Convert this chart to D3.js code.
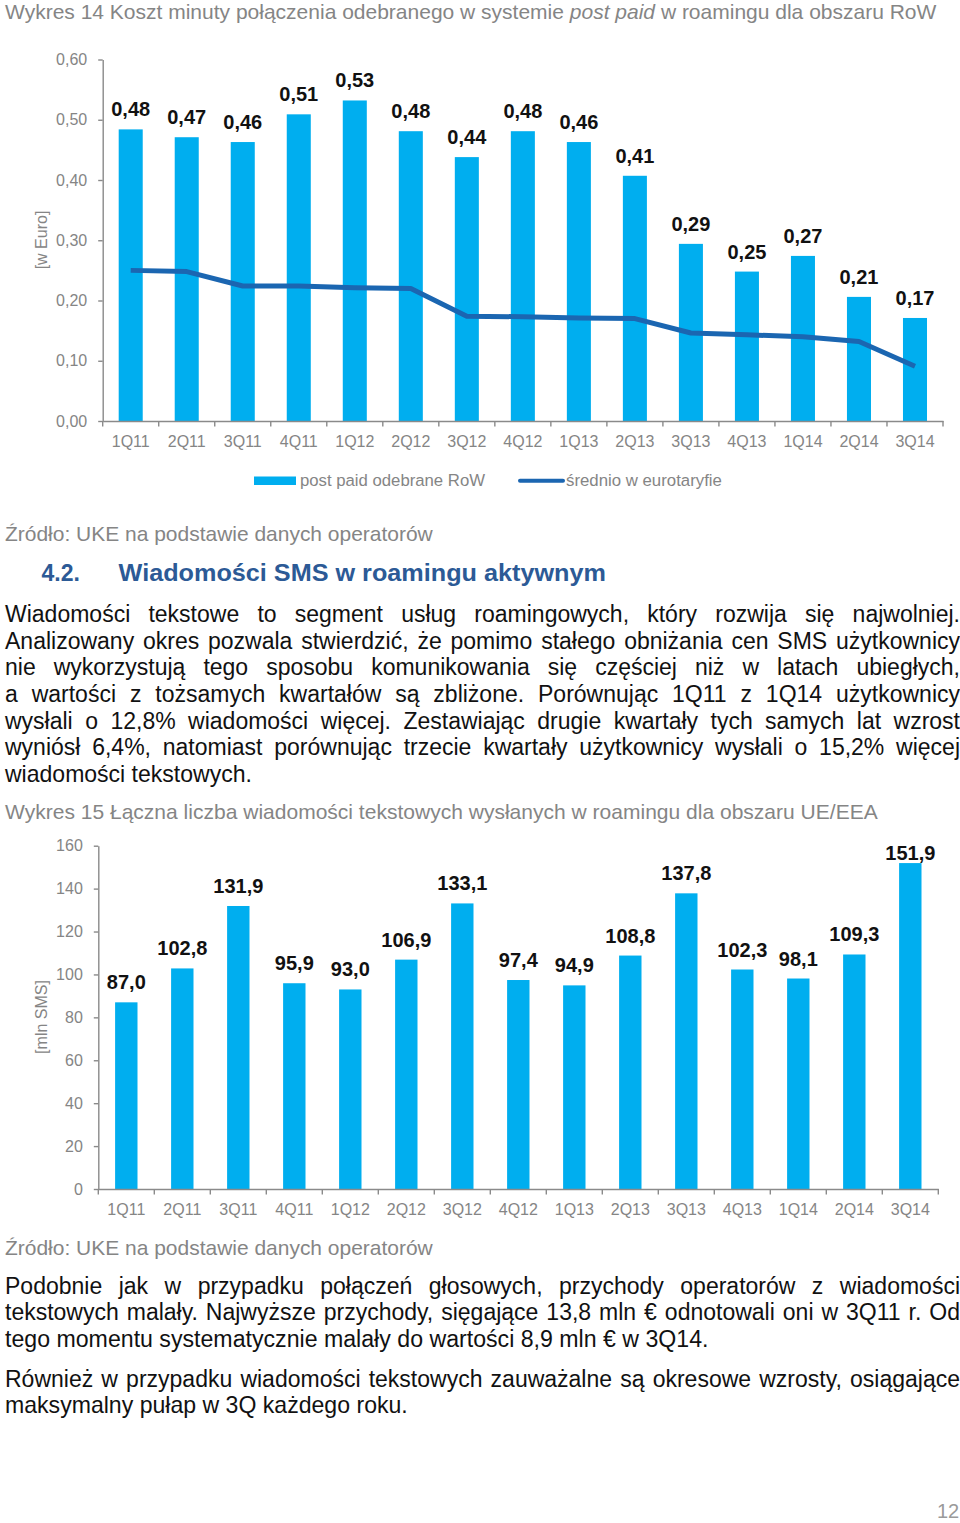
<!DOCTYPE html>
<html>
<head>
<meta charset="utf-8">
<script src="https://cdn.jsdelivr.net/npm/d3@7"></script>
<style>
  html, body { margin: 0; padding: 0; background: #fff; }
  svg { display: block; }
</style>
</head>
<body>
<script>
// ---------- DATA ----------
const quarters = ["1Q11","2Q11","3Q11","4Q11","1Q12","2Q12","3Q12","4Q12","1Q13","2Q13","3Q13","4Q13","1Q14","2Q14","3Q14"];
const costPostPaidRoW = [0.484,0.471,0.463,0.509,0.532,0.481,0.438,0.481,0.463,0.407,0.294,0.248,0.274,0.206,0.171];
const avgEurotariff   = [0.250,0.248,0.224,0.224,0.221,0.220,0.174,0.173,0.171,0.170,0.146,0.143,0.140,0.132,0.091];
const costTicks = [0,0.1,0.2,0.3,0.4,0.5,0.6];
const smsTotal = [87.0,102.8,131.9,95.9,93.0,106.9,133.1,97.4,94.9,108.8,137.8,102.3,98.1,109.3,151.9];
const smsTicks = [0,20,40,60,80,100,120,140,160];
const legendLabels = ["post paid odebrane RoW","średnio w eurotaryfie"];

const title14 = [{t:"Wykres 14 Koszt minuty połączenia odebranego w systemie "},{t:"post paid",i:true},{t:" w roamingu dla obszaru RoW"}];
const title15 = "Wykres 15 Łączna liczba wiadomości tekstowych wysłanych w roamingu dla obszaru UE/EEA";
const sourceText = "Źródło: UKE na podstawie danych operatorów";
const para1 = [
  "Wiadomości tekstowe to segment usług roamingowych, który rozwija się najwolniej.",
  "Analizowany okres pozwala stwierdzić, że pomimo stałego obniżania cen SMS użytkownicy",
  "nie wykorzystują tego sposobu komunikowania się częściej niż w latach ubiegłych,",
  "a wartości z tożsamych kwartałów są zbliżone. Porównując 1Q11 z 1Q14 użytkownicy",
  "wysłali o 12,8% wiadomości więcej. Zestawiając drugie kwartały tych samych lat wzrost",
  "wyniósł 6,4%, natomiast porównując trzecie kwartały użytkownicy wysłali o 15,2% więcej",
  "wiadomości tekstowych."
];
const para2 = [
  "Podobnie jak w przypadku połączeń głosowych, przychody operatorów z wiadomości",
  "tekstowych malały. Najwyższe przychody, sięgające 13,8 mln € odnotowali oni w 3Q11 r. Od",
  "tego momentu systematycznie malały do wartości 8,9 mln € w 3Q14."
];
const para3 = [
  "Również w przypadku wiadomości tekstowych zauważalne są okresowe wzrosty, osiągające",
  "maksymalny pułap w 3Q każdego roku."
];

// ---------- STYLE ----------
const FONT = "'Liberation Sans', Arial, Helvetica, sans-serif";
const BAR = "#00aeef";
const LINE = "#1b66b1";
const AXIS = "#8a8a8a";
const GREY_TXT = "#858585";
const HEAD = "#2c5a96";

const svg = d3.select("body").append("svg").attr("width", 960).attr("height", 1523)
  .style("font-family", FONT);

// helper: place a line of text, fitted/justified to a target width
function textLine(x, y, parts, o) {
  const g = svg.append("g").attr("transform", `translate(${x},${y})`);
  const t = g.append("text").attr("x", 0).attr("y", 0)
    .attr("font-size", o.size).attr("font-weight", o.weight || "normal")
    .attr("fill", o.fill || "#111").style("font-family", FONT);
  if (typeof parts === "string") parts = [{t: parts}];
  parts.forEach(p => t.append("tspan").text(p.t).attr("font-style", p.i ? "italic" : "normal"));
  if (o.target) {
    const w = t.node().getComputedTextLength();
    const full = parts.map(p => p.t).join("");
    const spaces = (full.match(/ /g) || []).length;
    if (o.justify && w < o.target && spaces > 0) {
      t.attr("word-spacing", (o.target - w) / spaces);
    } else {
      g.attr("transform", `translate(${x},${y}) scale(${o.target / w},1)`);
    }
  }
  return t;
}

// ---------- CHART 14 ----------
(function(){
  const x = d3.scaleBand().domain(quarters).range([102.7, 943]).paddingInner(0.571).paddingOuter(0.2855);
  const y = d3.scaleLinear().domain([0, 0.6]).range([421, 59.5]);
  const g = svg.append("g");

  g.selectAll("rect.bar").data(quarters).join("rect").attr("class","bar")
    .attr("x", d => x(d)).attr("width", x.bandwidth())
    .attr("y", (d,i) => y(costPostPaidRoW[i]))
    .attr("height", (d,i) => y(0) - y(costPostPaidRoW[i]))
    .attr("fill", BAR);

  const line = d3.line().x((d,i) => x(quarters[i]) + x.bandwidth()/2).y(d => y(d));
  g.append("path").datum(avgEurotariff).attr("d", line)
    .attr("fill","none").attr("stroke", LINE).attr("stroke-width", 5)
    .attr("stroke-linejoin","round").attr("stroke-linecap","butt");

  g.selectAll("text.val").data(quarters).join("text").attr("class","val")
    .attr("x", d => x(d) + x.bandwidth()/2)
    .attr("y", (d,i) => y(costPostPaidRoW[i]) - 13)
    .attr("text-anchor","middle").attr("font-size", 20).attr("font-weight","bold").attr("fill","#111")
    .text((d,i) => costPostPaidRoW[i].toFixed(2).replace(".", ","));

  const ya = g.append("g").attr("transform", "translate(102.7,0)")
    .call(d3.axisLeft(y).tickValues(costTicks).tickSize(4.5).tickSizeOuter(0).tickPadding(11)
      .tickFormat(d => d.toFixed(2).replace(".", ",")));
  const xa = g.append("g").attr("transform", "translate(0,421)")
    .call(d3.axisBottom(x).tickSize(0).tickSizeOuter(0).tickPadding(15));
  [ya, xa].forEach(a => {
    a.attr("font-family", FONT).attr("font-size", 16);
    a.selectAll("path,line").attr("stroke", AXIS).attr("stroke-width", 1.4);
    a.selectAll("text").attr("fill", GREY_TXT);
  });
  xa.selectAll("g.bt").data(d3.range(quarters.length + 1)).join("line").attr("class","bt")
    .attr("x1", i => x.range()[0] + i * x.step()).attr("x2", i => x.range()[0] + i * x.step())
    .attr("y1", 0).attr("y2", 5.5).attr("stroke", AXIS).attr("stroke-width", 1.4);

  g.append("text").attr("transform","translate(41,240) rotate(-90)")
    .attr("text-anchor","middle").attr("dy","0.35em").attr("font-size",16).attr("fill",GREY_TXT)
    .text("[w Euro]");

  // legend
  g.append("rect").attr("x",254).attr("y",476.5).attr("width",42).attr("height",8.5).attr("fill",BAR);
  textLine(300, 485.7, legendLabels[0], {size:17, fill:GREY_TXT, target:185});
  g.append("line").attr("x1",520).attr("x2",563).attr("y1",480.7).attr("y2",480.7)
    .attr("stroke",LINE).attr("stroke-width",4).attr("stroke-linecap","round");
  textLine(566, 485.7, legendLabels[1], {size:17, fill:GREY_TXT, target:156});
})();

// ---------- CHART 15 ----------
(function(){
  const x = d3.scaleBand().domain(quarters).range([98.3, 938.3]).paddingInner(0.6).paddingOuter(0.3);
  const y = d3.scaleLinear().domain([0, 160]).range([1189, 845.7]);
  const g = svg.append("g");

  g.selectAll("rect.bar").data(quarters).join("rect").attr("class","bar")
    .attr("x", d => x(d)).attr("width", x.bandwidth())
    .attr("y", (d,i) => y(smsTotal[i]))
    .attr("height", (d,i) => y(0) - y(smsTotal[i]))
    .attr("fill", BAR);

  g.selectAll("text.val").data(quarters).join("text").attr("class","val")
    .attr("x", d => x(d) + x.bandwidth()/2)
    .attr("y", (d,i) => Math.max(y(smsTotal[i]) - 13, 860))
    .attr("text-anchor","middle").attr("font-size", 20).attr("font-weight","bold").attr("fill","#111")
    .text((d,i) => smsTotal[i].toFixed(1).replace(".", ","));

  const ya = g.append("g").attr("transform", "translate(98.3,0)")
    .call(d3.axisLeft(y).tickValues(smsTicks).tickSize(4.5).tickSizeOuter(0).tickPadding(11));
  const xa = g.append("g").attr("transform", "translate(0,1189)")
    .call(d3.axisBottom(x).tickSize(0).tickSizeOuter(0).tickPadding(15));
  [ya, xa].forEach(a => {
    a.attr("font-family", FONT).attr("font-size", 16);
    a.selectAll("path,line").attr("stroke", AXIS).attr("stroke-width", 1.4);
    a.selectAll("text").attr("fill", GREY_TXT);
  });
  xa.selectAll("g.bt").data(d3.range(quarters.length + 1)).join("line").attr("class","bt")
    .attr("x1", i => x.range()[0] + i * x.step()).attr("x2", i => x.range()[0] + i * x.step())
    .attr("y1", 0).attr("y2", 5.5).attr("stroke", AXIS).attr("stroke-width", 1.4);

  g.append("text").attr("transform","translate(41.5,1017) rotate(-90)")
    .attr("text-anchor","middle").attr("dy","0.35em").attr("font-size",16).attr("fill",GREY_TXT)
    .text("[mln SMS]");
})();

// ---------- TEXT ----------
textLine(5, 19, title14, {size:20, fill:GREY_TXT, target:932});
textLine(5, 541, sourceText, {size:20, fill:GREY_TXT, target:428});
textLine(41.5, 581, "4.2.", {size:23, weight:"bold", fill:HEAD});
textLine(118.6, 581, "Wiadomości SMS w roamingu aktywnym", {size:23, weight:"bold", fill:HEAD, target:487.5});

const BODY = 23;
const p1y = [622, 649, 675, 702, 729, 755, 782];
para1.forEach((s,i) => {
  const last = i === para1.length - 1;
  textLine(5, p1y[i], s, {size:BODY, fill:"#111", target: last ? 247 : 955, justify: !last});
});
textLine(5, 819, title15, {size:20, fill:GREY_TXT, target:873});
textLine(5, 1255, sourceText, {size:20, fill:GREY_TXT, target:428});

const p2y = [1294, 1320, 1347];
const p2w = [955, 955, 704];
para2.forEach((s,i) => textLine(5, p2y[i], s, {size:BODY, fill:"#111", target:p2w[i], justify: i < 2}));
const p3y = [1387, 1413];
const p3w = [955, 403];
para3.forEach((s,i) => textLine(5, p3y[i], s, {size:BODY, fill:"#111", target:p3w[i], justify: i < 1}));

textLine(937, 1518, "12", {size:20, fill:"#9a9a9a"});
</script>
</body>
</html>
